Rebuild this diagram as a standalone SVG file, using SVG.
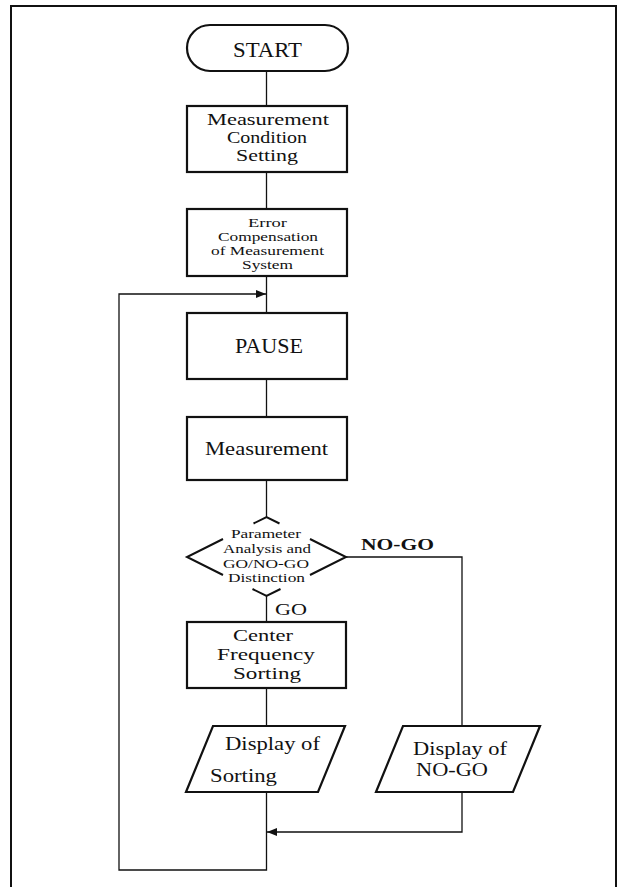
<svg xmlns="http://www.w3.org/2000/svg" width="625" height="887" viewBox="0 0 625 887">
  <style>
    .shape { fill: #fff; stroke: #111; stroke-width: 2.2; stroke-linejoin: miter; }
    .edge { fill: none; stroke: #111; stroke-width: 1.3; }
    .outline { fill: none; stroke: #111; stroke-width: 2; }
    .frame { fill: none; stroke: #111; stroke-width: 2; }
    text { font-family: "Liberation Serif", "Times New Roman", serif; fill: #111; text-anchor: middle; }
    .big { font-size: 21px; }
    .mid { font-size: 18.5px; }
    .stack { font-size: 16.5px; }
    .small { font-size: 13.5px; }
    .label { font-size: 17px; }
  </style>
  <defs>
    <marker id="arrow" viewBox="0 0 10 8" refX="10" refY="4" markerWidth="10" markerHeight="8" markerUnits="userSpaceOnUse" orient="auto">
      <path d="M0,0 L10,4 L0,8 Z" fill="#111"/>
    </marker>
  </defs>

  <!-- page frame, open at the bottom -->
  <path class="frame" d="M11,887 L11,6 L616,6 L616,887"/>

  <g id="connectors">
    <line class="edge" x1="266.5" y1="71" x2="266.5" y2="106"/>
    <line class="edge" x1="266.5" y1="172" x2="266.5" y2="209"/>
    <line class="edge" x1="266.5" y1="276" x2="266.5" y2="313"/>
    <line class="edge" x1="266.5" y1="379" x2="266.5" y2="417"/>
    <line class="edge" x1="266.5" y1="480" x2="266.5" y2="517"/>
    <line class="edge" x1="266.5" y1="596" x2="266.5" y2="622"/>
    <line class="edge" x1="266.5" y1="688" x2="266.5" y2="726"/>
    <!-- NO-GO branch -->
    <path class="edge" d="M346,557 L462,557 L462,726"/>
    <path class="edge" d="M462,792 L462,832 L267,832" marker-end="url(#arrow)"/>
    <!-- return loop -->
    <path class="edge" d="M266.5,792 L266.5,870 L119,870 L119,294 L266,294" marker-end="url(#arrow)"/>
  </g>

  <g id="start">
    <rect class="shape" x="187" y="25" width="161" height="46" rx="23" ry="23"/>
    <text class="big" x="267.5" y="57" textLength="69" lengthAdjust="spacingAndGlyphs">START</text>
  </g>

  <g id="condition-setting">
    <rect class="shape" x="187" y="106" width="160" height="66"/>
    <text class="stack" x="268" y="124.5" textLength="122" lengthAdjust="spacingAndGlyphs">Measurement</text>
    <text class="stack" x="267" y="142.5" textLength="80" lengthAdjust="spacingAndGlyphs">Condition</text>
    <text class="stack" x="267" y="160.5" textLength="62" lengthAdjust="spacingAndGlyphs">Setting</text>
  </g>

  <g id="error-compensation">
    <rect class="shape" x="187" y="209" width="160" height="67"/>
    <text class="small" x="267.5" y="227" textLength="39" lengthAdjust="spacingAndGlyphs">Error</text>
    <text class="small" x="268" y="241" textLength="100" lengthAdjust="spacingAndGlyphs">Compensation</text>
    <text class="small" x="267.5" y="255" textLength="113" lengthAdjust="spacingAndGlyphs">of Measurement</text>
    <text class="small" x="267.5" y="269" textLength="51" lengthAdjust="spacingAndGlyphs">System</text>
  </g>

  <g id="pause">
    <rect class="shape" x="187" y="313" width="160" height="66"/>
    <text class="big" x="269" y="353" textLength="68" lengthAdjust="spacingAndGlyphs">PAUSE</text>
  </g>

  <g id="measurement">
    <rect class="shape" x="187" y="417" width="160" height="63"/>
    <text class="mid" x="266.5" y="455" textLength="123" lengthAdjust="spacingAndGlyphs">Measurement</text>
  </g>

  <g id="go-nogo-decision">
    <!-- diamond outline broken around the wording -->
    <path class="outline" d="M253.5,523.5 L266.5,517 L279.5,523.5"/>
    <path class="outline" d="M223,539 L187,557 L223,575"/>
    <path class="outline" d="M310,539 L346,557 L310,575"/>
    <path class="outline" d="M252.5,589 L266.5,596 L280.5,589"/>
    <text class="small" x="266" y="538" textLength="70" lengthAdjust="spacingAndGlyphs">Parameter</text>
    <text class="small" x="267" y="553" textLength="88" lengthAdjust="spacingAndGlyphs">Analysis and</text>
    <text class="small" x="266" y="568" textLength="86" lengthAdjust="spacingAndGlyphs">GO/NO-GO</text>
    <text class="small" x="266.5" y="582" textLength="77" lengthAdjust="spacingAndGlyphs">Distinction</text>
  </g>

  <g id="branch-labels">
    <text class="label" x="397.5" y="550" textLength="73" lengthAdjust="spacingAndGlyphs" style="font-weight:bold">NO-GO</text>
    <text class="label" x="291" y="615" textLength="32" lengthAdjust="spacingAndGlyphs">GO</text>
  </g>

  <g id="center-frequency-sorting">
    <rect class="shape" x="187" y="622" width="159" height="66"/>
    <text class="stack" x="263" y="640.5" textLength="60" lengthAdjust="spacingAndGlyphs">Center</text>
    <text class="stack" x="266" y="659.5" textLength="98" lengthAdjust="spacingAndGlyphs">Frequency</text>
    <text class="stack" x="267" y="679" textLength="68" lengthAdjust="spacingAndGlyphs">Sorting</text>
  </g>

  <g id="display-sorting">
    <polygon class="shape" points="213,726 345,726 318,792 186,792"/>
    <text class="mid" x="272.5" y="750" textLength="95" lengthAdjust="spacingAndGlyphs">Display of</text>
    <text class="mid" x="243.5" y="782" textLength="67" lengthAdjust="spacingAndGlyphs">Sorting</text>
  </g>

  <g id="display-nogo">
    <polygon class="shape" points="403,726 540,726 513,792 376,792"/>
    <text class="mid" x="460" y="755" textLength="94" lengthAdjust="spacingAndGlyphs">Display of</text>
    <text class="mid" x="452" y="776" textLength="72" lengthAdjust="spacingAndGlyphs">NO-GO</text>
  </g>
</svg>
